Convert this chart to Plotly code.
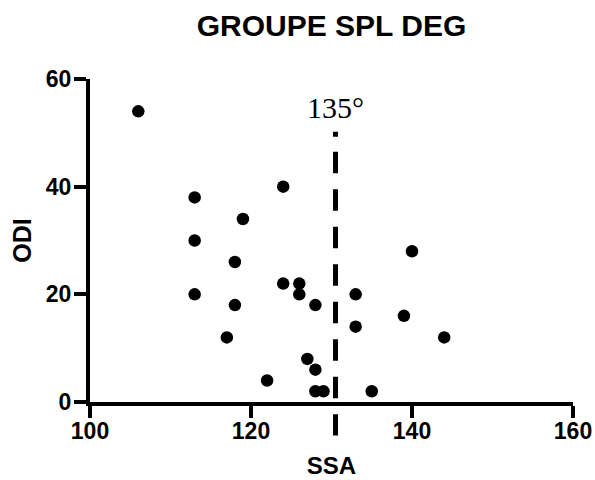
import plotly.graph_objects as go

# Data
ssa = [106, 113, 124, 119, 113, 118, 113, 118, 117, 124, 126, 126,
       128, 127, 128, 122, 128, 129, 133, 133, 139, 144, 135, 140]
odi = [54, 38, 40, 34, 30, 26, 20, 18, 12, 22, 22, 20,
       18, 8, 6, 4, 2, 2, 20, 14, 16, 12, 2, 28]

ref_x = [130.5]
ref_label = ["135°"]

x_ticks = [100, 120, 140, 160]
y_ticks = [0, 20, 40, 60]

fig = go.Figure()
fig.add_trace(go.Scatter(
    x=ssa, y=odi, mode="markers",
    marker=dict(size=12.5, color="black"),
    cliponaxis=False, showlegend=False,
))

dash_pattern = ",".join(["5px", "15px"] + ["21.5px", "16px"] * 7 + ["21.5px", "40px"])
fig.add_shape(type="line", xref="x", yref="paper",
              x0=ref_x[0], x1=ref_x[0], y0=0.837, y1=-0.104,
              line=dict(color="black", width=5, dash=dash_pattern))
fig.add_annotation(x=ref_x[0], xref="x", y=0.912, yref="paper",
                   text=ref_label[0], showarrow=False,
                   font=dict(family="Liberation Serif", size=30, color="black"),
                   yanchor="middle", xanchor="center")

axis_common = dict(
    showline=True, linecolor="black", linewidth=4,
    ticks="outside", ticklen=12, tickwidth=4, tickcolor="black",
    showgrid=False, zeroline=False, automargin=False,
    tickfont=dict(family="Liberation Sans", size=23, color="black"),
)

fig.update_layout(
    width=595, height=480,
    margin=dict(l=90, r=22, t=79, b=78),
    paper_bgcolor="white", plot_bgcolor="white",
    title=dict(text="<b>GROUPE SPL DEG</b>", x=0.5, xref="paper", xanchor="center",
               y=1 - 25 / 480, yanchor="middle", automargin=False,
               font=dict(family="Liberation Sans", size=30, color="black")),
    xaxis=dict(range=[100, 160], tickvals=x_ticks,
               ticktext=[f"<b>{v}</b>" for v in x_ticks],
               ticklabelstandoff=-7,
               title=dict(text="<b>SSA</b>", standoff=16,
                          font=dict(family="Liberation Sans", size=24, color="black")),
               **axis_common),
    yaxis=dict(range=[0, 60], tickvals=y_ticks,
               ticktext=[f"<b>{v}</b>" for v in y_ticks],
               ticklabelstandoff=-2,
               title=dict(text="<b>ODI</b>", standoff=8,
                          font=dict(family="Liberation Sans", size=25, color="black")),
               **axis_common),
)

fig.write_html("out.html", config={"displayModeBar": False},
               post_script="document.body.style.margin='0';")
